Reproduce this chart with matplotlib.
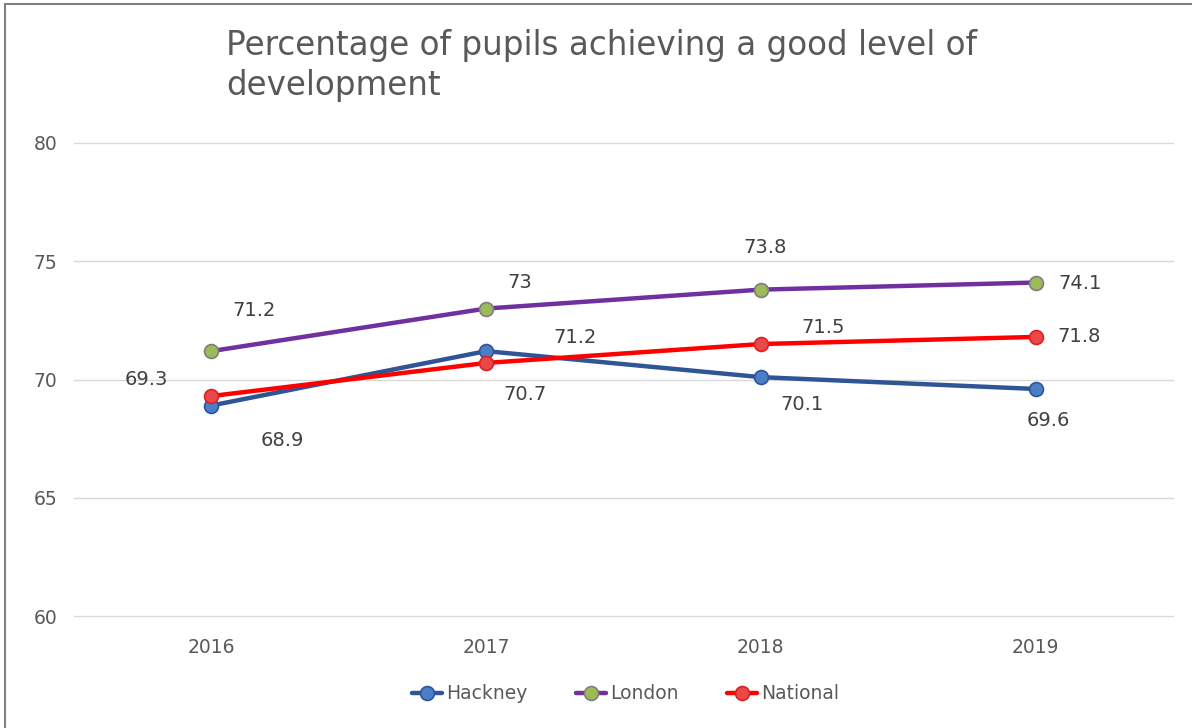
import matplotlib.pyplot as plt
from matplotlib.patches import Rectangle

years = ['2016', '2017', '2018', '2019']
hackney = [68.9, 71.2, 70.1, 69.6]
london = [71.2, 73, 73.8, 74.1]
national = [69.3, 70.7, 71.5, 71.8]
y_ticks = [60, 65, 70, 75, 80]

# label offsets in points (dx, dy)
hackney_off = [(51, -25), (64, 10), (30, -20), (9, -23)]
london_off = [(31, 29), (24, 19), (3, 30), (32, -1)]
national_off = [(-47, 12), (28, -23), (45, 12), (31, 0)]

plt.rcParams['font.family'] = ['DejaVu Sans']

fig = plt.figure(figsize=(11.92, 7.28), dpi=100)
ax = fig.add_axes([0.062, 0.1538, 0.922, 0.6498])

x = list(range(len(years)))
series = [
    ('Hackney', hackney, '#2F5597', '#4A7EC6', '#2F5597', hackney_off),
    ('London', london, '#7030A0', '#9BBB59', '#7F7F7F', london_off),
    ('National', national, '#FF0000', '#E84848', '#E02020', national_off),
]
for name, vals, lc, fc, ec, offs in series:
    ax.plot(x, vals, color=lc, lw=3.2, marker='o', ms=10, mfc=fc, mec=ec,
            mew=1.2, label=name, solid_capstyle='round')
    for xi, v, off in zip(x, vals, offs):
        ax.annotate(f'{v:g}', (xi, v), xytext=off, textcoords='offset points',
                    ha='center', va='center', fontsize=14, color='#404040')

ax.set_xlim(-0.5, 3.5)
ax.set_ylim(60, 80)
ax.set_yticks(y_ticks)
ax.set_xticks(x)
ax.set_xticklabels(years)
ax.grid(axis='y', color='#D9D9D9', lw=1)
for gl in ax.get_ygridlines():
    gl.set_clip_on(False)
ax.set_axisbelow(True)
for s in ax.spines.values():
    s.set_visible(False)
ax.tick_params(length=0, labelsize=13.5, labelcolor='#595959', pad=16)
ax.tick_params(axis='y', pad=12)

fig.text(0.19, 0.91, 'Percentage of pupils achieving a good level of\ndevelopment',
         fontsize=23.5, color='#595959', ha='left', va='center', linespacing=1.3)

fig.legend(loc='center', bbox_to_anchor=(0.525, 0.047), ncol=3, frameon=False,
           fontsize=13.5, labelcolor='#595959', handlelength=1.6, handletextpad=0.2,
           columnspacing=2.6)

fig.patches.append(Rectangle((0.004, -0.01), 1.0, 1.004, transform=fig.transFigure,
                             fill=False, ec='#808080', lw=1.5))

fig.savefig('out.png', dpi=100, facecolor='white')
